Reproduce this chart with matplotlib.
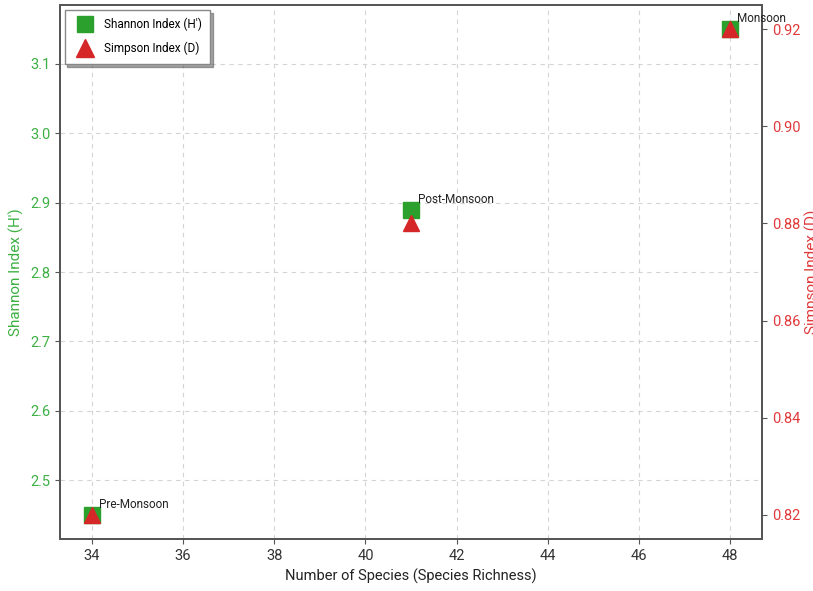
import matplotlib
matplotlib.use("Agg")
import matplotlib.pyplot as plt
from matplotlib.lines import Line2D

plt.rcParams['font.family'] = ['Roboto', 'DejaVu Sans']

seasons = ["Pre-Monsoon", "Post-Monsoon", "Monsoon"]
species_richness = [34, 41, 48]
shannon = [2.45, 2.89, 3.15]
simpson = [0.82, 0.88, 0.92]

green = "#2ca02c"
red = "#d62728"
tick_green = "#3cb043"
tick_red = "#e0393b"

fig = plt.figure(figsize=(8.13, 5.91), dpi=100)
ax = fig.add_axes([0.0738, 0.088, 0.8635, 0.9035])
ax2 = ax.twinx()

ax.plot(species_richness, shannon, linestyle="none", marker="s", markersize=11.5,
        color=green, label="Shannon Index (H')")
ax2.plot(species_richness, simpson, linestyle="none", marker="^", markersize=12,
         color=red, label="Simpson Index (D)")

for x, y, name in zip(species_richness, shannon, seasons):
    ax2.annotate(name, xy=(x, y), xycoords=ax.transData, xytext=(5, 5),
                 textcoords="offset points", fontsize=8.5, color="#222222")

ax.set_xticks(range(34, 49, 2))
ax.set_xlabel("Number of Species (Species Richness)", fontsize=10.5, color="#222222")
ax.set_ylabel("Shannon Index (H')", fontsize=11, color=tick_green)
ax2.set_ylabel("Simpson Index (D)", fontsize=11, color=tick_red, labelpad=3)

ax.tick_params(axis="y", colors="#555555", labelcolor=tick_green, labelsize=10.5)
ax2.tick_params(axis="y", colors="#555555", labelcolor=tick_red, labelsize=10.5)
ax.tick_params(axis="x", colors="#555555", labelcolor="#333333", labelsize=10.5)

ax.grid(True, linestyle=(0, (4, 4)), color="#d0d0d0", linewidth=0.8, alpha=0.9)
for a in (ax, ax2):
    for s in a.spines.values():
        s.set_color("#555555")
        s.set_linewidth(1.3)

handles = [Line2D([], [], linestyle="none", marker="s", markersize=12, color=green),
           Line2D([], [], linestyle="none", marker="^", markersize=13, color=red)]
ax2.legend(handles, ["Shannon Index (H')", "Simpson Index (D)"], loc="upper left",
           fontsize=8.5, shadow=True, fancybox=False, framealpha=1,
           edgecolor="#888888", borderpad=0.7, handletextpad=0.6,
           labelspacing=0.9, borderaxespad=0.4)

fig.savefig("out.png", dpi=100)
